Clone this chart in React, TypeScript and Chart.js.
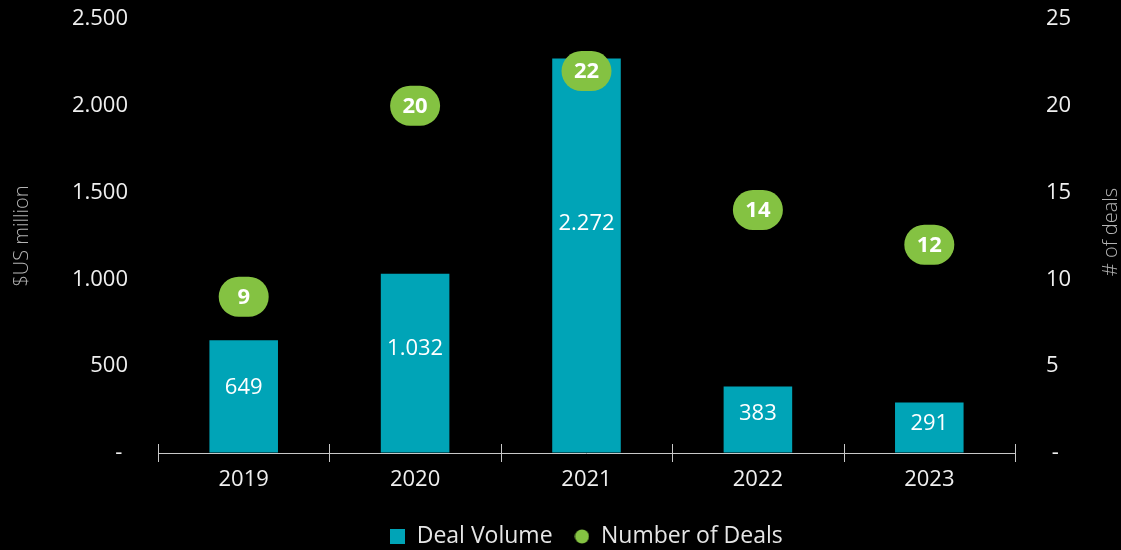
import React, { useEffect, useRef } from 'react';
import { Chart, registerables } from 'chart.js';

Chart.register(...registerables);

const years = ['2019', '2020', '2021', '2022', '2023'];
const dealVolume = [649, 1032, 2272, 383, 291];
const dealCount = [9, 20, 22, 14, 12];

const FONT = '"Open Sans", "Noto Sans", sans-serif';
const TEAL = '#00a4b7';
const GREEN = '#84c242';
const TEXT = '#efefef';
const TITLE = '#b4b4b4';

const fmtThousands = (v: number) =>
  String(Math.round(v)).replace(/\B(?=(\d{3})+(?!\d))/g, '.');

export default function App() {
  const ref = useRef<HTMLCanvasElement | null>(null);

  useEffect(() => {
    document.body.style.margin = '0';
    document.body.style.background = '#000';
    const canvas = ref.current;
    if (!canvas) return;

    const sq = document.createElement('canvas');
    sq.width = 15;
    sq.height = 15;
    const sctx = sq.getContext('2d')!;
    sctx.fillStyle = TEAL;
    sctx.fillRect(0, 0, 15, 15);

    const ci = document.createElement('canvas');
    ci.width = 15;
    ci.height = 15;
    const cctx = ci.getContext('2d')!;
    cctx.fillStyle = GREEN;
    cctx.beginPath();
    cctx.arc(7.5, 7.5, 7, 0, Math.PI * 2);
    cctx.fill();

    const axisPlugin = {
      id: 'axisPlugin',
      afterDraw(chart: any) {
        const { ctx, chartArea } = chart;
        const { left, right, bottom, top } = chartArea;
        ctx.save();
        ctx.strokeStyle = '#c8c8c8';
        ctx.lineWidth = 1;
        ctx.beginPath();
        ctx.moveTo(left, bottom + 0.5);
        ctx.lineTo(right, bottom + 0.5);
        const n = years.length;
        for (let i = 0; i <= n; i++) {
          const x = Math.round(left + (i * (right - left)) / n) + 0.5;
          ctx.moveTo(x, bottom - 9);
          ctx.lineTo(x, bottom + 9);
        }
        ctx.stroke();
        ctx.fillStyle = TITLE;
        ctx.font = `300 20px ${FONT}`;
        ctx.textAlign = 'center';
        ctx.textBaseline = 'middle';
        ctx.translate(1111, (top + bottom) / 2 - 4);
        ctx.rotate(-Math.PI / 2);
        ctx.fillText('# of deals', 0, 0);
        ctx.restore();
      },
    };

    const labelPlugin = {
      id: 'labelPlugin',
      afterDatasetsDraw(chart: any) {
        const { ctx } = chart;
        ctx.save();
        const barMeta = chart.getDatasetMeta(0);
        ctx.fillStyle = '#ffffff';
        ctx.font = `22px ${FONT}`;
        ctx.textAlign = 'center';
        ctx.textBaseline = 'middle';
        barMeta.data.forEach((el: any, i: number) => {
          const y = el.base + (el.y - el.base) * 0.58;
          ctx.fillText(fmtThousands(dealVolume[i]), el.x, y);
        });
        const ptMeta = chart.getDatasetMeta(1);
        ptMeta.data.forEach((el: any, i: number) => {
          const w = 50;
          const h = 40;
          ctx.fillStyle = GREEN;
          ctx.beginPath();
          ctx.roundRect(el.x - w / 2, el.y - h / 2, w, h, 20);
          ctx.fill();
          ctx.fillStyle = '#ffffff';
          ctx.font = `bold 22px ${FONT}`;
          ctx.fillText(String(dealCount[i]), el.x, el.y + 1);
        });
        ctx.restore();
      },
    };

    const hiddenGrid = (len: number) => ({
      display: true,
      drawOnChartArea: false,
      drawTicks: true,
      tickLength: len,
      color: 'rgba(0,0,0,0)',
    });

    const chart = new Chart(canvas, {
      type: 'bar',
      data: {
        labels: years,
        datasets: [
          {
            type: 'bar',
            label: 'Deal Volume',
            data: dealVolume,
            backgroundColor: TEAL,
            yAxisID: 'y',
            categoryPercentage: 0.8,
            barPercentage: 0.5,
            order: 2,
          },
          {
            type: 'line',
            label: 'Number of Deals',
            data: dealCount,
            yAxisID: 'y1',
            showLine: false,
            pointRadius: 0,
            backgroundColor: GREEN,
            borderColor: GREEN,
            order: 1,
          } as any,
        ],
      },
      options: {
        responsive: false,
        animation: false,
        layout: { padding: { top: 19, bottom: -8, left: 0, right: 0 } },
        plugins: {
          tooltip: { enabled: false },
          legend: {
            position: 'bottom',
            fullSize: false,
            labels: {
              color: '#e6e6e6',
              font: { size: 23, family: FONT },
              usePointStyle: true,
              boxWidth: 15,
              boxHeight: 15,
              padding: 4,
              generateLabels: () => [
                { text: 'Deal Volume   ', pointStyle: sq as any, fillStyle: TEAL, strokeStyle: TEAL, lineWidth: 0, hidden: false, datasetIndex: 0, fontColor: '#e6e6e6' },
                { text: 'Number of Deals', pointStyle: ci as any, fillStyle: GREEN, strokeStyle: GREEN, lineWidth: 0, hidden: false, datasetIndex: 1, fontColor: '#e6e6e6' },
              ],
            },
          },
        },
        scales: {
          x: {
            grid: { display: false, drawTicks: false },
            border: { display: false },
            ticks: { color: TEXT, font: { size: 22, family: FONT }, padding: 14 },
            afterFit: (s: any) => {
              s.height = 68;
            },
          },
          y: {
            position: 'left',
            min: 0,
            max: 2500,
            grid: hiddenGrid(30) as any,
            border: { display: false },
            ticks: {
              stepSize: 500,
              color: TEXT,
              font: { size: 22, family: FONT },
              padding: 0,
              callback: (v: any) => (Number(v) === 0 ? '- ' : fmtThousands(Number(v))),
            },
            title: {
              display: true,
              text: '$US million',
              color: TITLE,
              font: { size: 20, family: FONT, weight: '300' as any },
              padding: { top: 10, bottom: 0 },
            },
            afterFit: (s: any) => {
              s.width = 158;
            },
          },
          y1: {
            position: 'right',
            min: 0,
            max: 25,
            grid: hiddenGrid(31) as any,
            border: { display: false },
            ticks: {
              stepSize: 5,
              color: TEXT,
              font: { size: 22, family: FONT },
              padding: 0,
              callback: (v: any) => (Number(v) === 0 ? ' -' : String(v)),
            },
            afterFit: (s: any) => {
              s.width = 106;
            },
          },
        },
      },
      plugins: [axisPlugin, labelPlugin],
    });

    return () => chart.destroy();
  }, []);

  return (
    <div style={{ position: 'absolute', left: 0, top: 0, width: 1121, height: 550, background: '#000' }}>
      <canvas ref={ref} width={1121} height={550} style={{ display: 'block' }} />
    </div>
  );
}
